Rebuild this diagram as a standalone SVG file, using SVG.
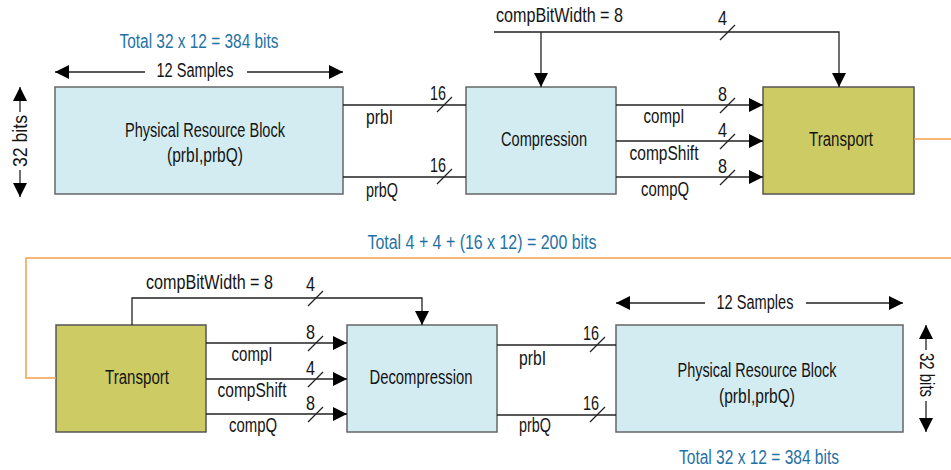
<svg xmlns="http://www.w3.org/2000/svg" width="951" height="470" viewBox="0 0 951 470">
<defs>
<style>
text{font-family:"Liberation Sans",Arial,sans-serif;font-size:20px;fill:#141414}
.c{text-anchor:middle}
.blue{fill:#1f72a6}
.blk{fill:#d3ecf2;stroke:#666;stroke-width:1.5}
.trn{fill:#cdcb64;stroke:#555;stroke-width:1.5}
.ln{fill:none;stroke:#222;stroke-width:1.3}
.or{fill:none;stroke:#f5a04a;stroke-width:1.5}
</style>
<marker id="ah" viewBox="0 0 14 14" refX="14" refY="7" markerWidth="14" markerHeight="14" markerUnits="userSpaceOnUse" orient="auto">
<path d="M0,0 L14,7 L0,14 Z" fill="#000"/>
</marker>
</defs>

<!-- top row nodes -->
<g id="prb-top">
<rect class="blk" x="55" y="87" width="288" height="107"/>
<text class="c" x="205" y="137" textLength="160" lengthAdjust="spacingAndGlyphs">Physical Resource Block</text>
<text class="c" x="205" y="162" textLength="76" lengthAdjust="spacingAndGlyphs">(prbI,prbQ)</text>
</g>
<g id="compression">
<rect class="blk" x="466" y="87" width="150" height="107"/>
<text class="c" x="544" y="146" textLength="86" lengthAdjust="spacingAndGlyphs">Compression</text>
</g>
<g id="transport-top">
<rect class="trn" x="763" y="87" width="151" height="107"/>
<text class="c" x="841" y="146" textLength="64" lengthAdjust="spacingAndGlyphs">Transport</text>
</g>

<!-- bottom row nodes -->
<g id="transport-bottom">
<rect class="trn" x="56" y="325" width="150" height="107"/>
<text class="c" x="137" y="384" textLength="64" lengthAdjust="spacingAndGlyphs">Transport</text>
</g>
<g id="decompression">
<rect class="blk" x="347" y="325" width="150" height="107"/>
<text class="c" x="421" y="384" textLength="103" lengthAdjust="spacingAndGlyphs">Decompression</text>
</g>
<g id="prb-bottom">
<rect class="blk" x="616" y="325" width="287" height="107"/>
<text class="c" x="757" y="377" textLength="159" lengthAdjust="spacingAndGlyphs">Physical Resource Block</text>
<text class="c" x="757" y="403" textLength="76" lengthAdjust="spacingAndGlyphs">(prbI,prbQ)</text>
</g>

<g id="annotations">
<text class="c blue" x="199" y="48" textLength="159" lengthAdjust="spacingAndGlyphs">Total 32 x 12 = 384 bits</text>
<text class="c blue" x="482" y="249" textLength="229" lengthAdjust="spacingAndGlyphs">Total 4 + 4 + (16 x 12) = 200 bits</text>
<text class="c blue" x="759" y="464" textLength="160" lengthAdjust="spacingAndGlyphs">Total 32 x 12 = 384 bits</text>
<!-- 12 samples top -->
<path class="ln" d="M145,72 H55" marker-end="url(#ah)"/>
<path class="ln" d="M247,72 H343" marker-end="url(#ah)"/>
<text class="c" x="195" y="77" textLength="77" lengthAdjust="spacingAndGlyphs">12 Samples</text>
<!-- 12 samples bottom -->
<path class="ln" d="M705,303 H616" marker-end="url(#ah)"/>
<path class="ln" d="M806,303 H903" marker-end="url(#ah)"/>
<text class="c" x="755" y="309" textLength="77" lengthAdjust="spacingAndGlyphs">12 Samples</text>
<!-- 32 bits left -->
<path class="ln" d="M20,112 V87" marker-end="url(#ah)"/>
<path class="ln" d="M20,170 V197" marker-end="url(#ah)"/>
<text class="c" transform="translate(27,141) rotate(-90)" textLength="52" lengthAdjust="spacingAndGlyphs">32 bits</text>
<!-- 32 bits right -->
<path class="ln" d="M926,350 V325" marker-end="url(#ah)"/>
<path class="ln" d="M926,401 V432" marker-end="url(#ah)"/>
<text class="c" transform="translate(920,375) rotate(90)" textLength="44" lengthAdjust="spacingAndGlyphs">32 bits</text>
</g>

<g id="connectors">
<!-- top row -->
<path class="ln" d="M343,105 H466 M343,177 H466"/>
<path class="ln" d="M437,112 L452,97 M437,184 L452,169"/>
<text x="430" y="100" textLength="16" lengthAdjust="spacingAndGlyphs">16</text>
<text x="430" y="172" textLength="16" lengthAdjust="spacingAndGlyphs">16</text>
<text x="366" y="124" textLength="27" lengthAdjust="spacingAndGlyphs">prbI</text>
<text x="366" y="197" textLength="32" lengthAdjust="spacingAndGlyphs">prbQ</text>

<path class="ln" d="M616,105 H763" marker-end="url(#ah)"/>
<path class="ln" d="M616,141 H763" marker-end="url(#ah)"/>
<path class="ln" d="M616,177 H763" marker-end="url(#ah)"/>
<path class="ln" d="M720,113 L735,98 M720,149 L735,134 M720,185 L735,170"/>
<text x="718" y="101" textLength="9" lengthAdjust="spacingAndGlyphs">8</text>
<text x="718" y="137" textLength="9" lengthAdjust="spacingAndGlyphs">4</text>
<text x="718" y="173" textLength="9" lengthAdjust="spacingAndGlyphs">8</text>
<text class="c" x="664" y="123" textLength="41" lengthAdjust="spacingAndGlyphs">compI</text>
<text class="c" x="664" y="160" textLength="69" lengthAdjust="spacingAndGlyphs">compShift</text>
<text class="c" x="665" y="196" textLength="48" lengthAdjust="spacingAndGlyphs">compQ</text>

<path class="ln" d="M494,32 H839 V87" marker-end="url(#ah)"/>
<path class="ln" d="M541,32 V87" marker-end="url(#ah)"/>
<path class="ln" d="M720,40 L735,25"/>
<text x="718" y="25" textLength="9" lengthAdjust="spacingAndGlyphs">4</text>
<text x="496" y="22" textLength="127" lengthAdjust="spacingAndGlyphs">compBitWidth = 8</text>

<!-- orange link -->
<path class="or" d="M914,139 H951"/>
<path class="or" d="M951,258 H26 V378 H56"/>

<!-- bottom row -->
<path class="ln" d="M206,343 H347" marker-end="url(#ah)"/>
<path class="ln" d="M206,379 H347" marker-end="url(#ah)"/>
<path class="ln" d="M206,414 H347" marker-end="url(#ah)"/>
<path class="ln" d="M308,351 L323,336 M308,387 L323,372 M308,422 L323,407"/>
<text x="306" y="339" textLength="9" lengthAdjust="spacingAndGlyphs">8</text>
<text x="306" y="375" textLength="9" lengthAdjust="spacingAndGlyphs">4</text>
<text x="306" y="410" textLength="9" lengthAdjust="spacingAndGlyphs">8</text>
<text class="c" x="252" y="361" textLength="41" lengthAdjust="spacingAndGlyphs">compI</text>
<text class="c" x="252" y="397" textLength="69" lengthAdjust="spacingAndGlyphs">compShift</text>
<text class="c" x="253" y="432" textLength="48" lengthAdjust="spacingAndGlyphs">compQ</text>

<path class="ln" d="M132,325 V298 H422 V325" marker-end="url(#ah)"/>
<path class="ln" d="M308,306 L323,291"/>
<text x="306" y="291" textLength="9" lengthAdjust="spacingAndGlyphs">4</text>
<text x="146" y="289" textLength="127" lengthAdjust="spacingAndGlyphs">compBitWidth = 8</text>

<path class="ln" d="M497,345 H616 M497,415 H616"/>
<path class="ln" d="M590,352 L605,337 M590,422 L605,407"/>
<text x="583" y="340" textLength="16" lengthAdjust="spacingAndGlyphs">16</text>
<text x="583" y="410" textLength="16" lengthAdjust="spacingAndGlyphs">16</text>
<text x="519" y="365" textLength="27" lengthAdjust="spacingAndGlyphs">prbI</text>
<text x="519" y="432" textLength="32" lengthAdjust="spacingAndGlyphs">prbQ</text>
</g>
</svg>
